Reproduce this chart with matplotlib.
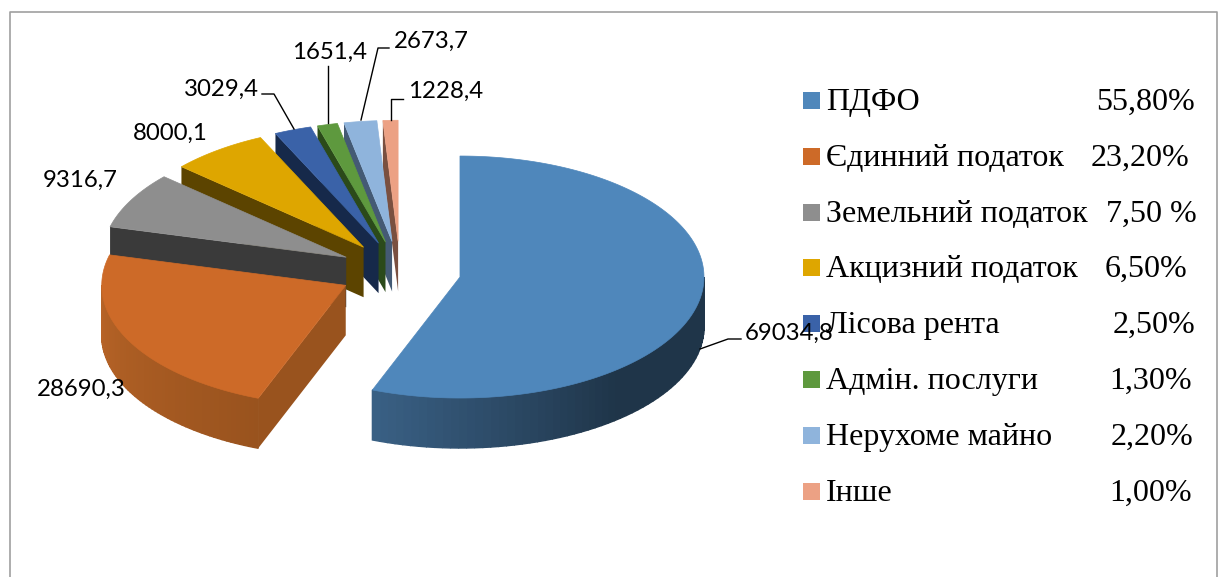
import numpy as np
import matplotlib
matplotlib.use("Agg")
import matplotlib.pyplot as plt

names = ["ПДФО", "Єдинний податок", "Земельний податок", "Акцизний податок",
         "Лісова рента", "Адмін. послуги", "Нерухоме майно", "Інше"]
values = [69034.8, 28690.3, 9316.7, 8000.1, 3029.4, 1651.4, 2673.7, 1228.4]
value_labels = ["69034,8", "28690,3", "9316,7", "8000,1", "3029,4", "1651,4", "2673,7", "1228,4"]
percents = ["55,80%", "23,20%", "7,50 %", "6,50%", "2,50%", "1,30%", "2,20%", "1,00%"]

top_colors = ["#4f87bb", "#cd6a28", "#8e8e8e", "#dea600", "#3a62a8", "#5e993e", "#8fb4dc", "#eca184"]
wall_colors = ["#3a6186", "#99531e", "#3a3a3a", "#5c4400", "#16294a", "#2b4a1a", "#445a74", "#7a5040"]
wall_far = ["#1f3549", "#b86427", "#3a3a3a", "#5c4400", "#16294a", "#2b4a1a", "#445a74", "#7a5040"]

# pie geometry in pixels
cx, cy = 400, 271.5
rx, ry = 244, 121
depth = 50
explode = 0.25

# label placement
label_xy = [(745, 333), (37, 389), (43, 180), (133, 133), (184, 89), (292, 52), (394, 41), (408, 91)]
leaders = {0: [(700, 349), (728, 339), (741, 339)],
           4: [(262, 94), (274, 94), (294, 129)],
           5: [(328, 66), (328, 123)],
           6: [(361, 120), (378, 48), (389, 48)],
           7: [(391, 120), (391, 99), (403, 99)]}
percent_right = [1195, 1189, 1197, 1187, 1195, 1192, 1193, 1192]
legend_y = [100, 156, 212, 267, 323, 379, 435, 491]


def pt(a, ax0, ay0):
    a = np.radians(a)
    return ax0 + rx * np.sin(a), ay0 - ry * np.cos(a)


fig = plt.figure(figsize=(12.19, 5.77), dpi=100)
ax = fig.add_axes([0, 0, 1, 1])
ax.set_xlim(0, 1219)
ax.set_ylim(577, 0)
ax.axis("off")

shares = np.array(values) / sum(values) * 360
starts = np.concatenate([[0], np.cumsum(shares)[:-1]])
ends = starts + shares

# small slices first, the front ones paint over them
for i in range(len(values) - 1, -1, -1):
    mid = (starts[i] + ends[i]) / 2
    x0, y0 = pt(mid, 0, 0)
    x0 = cx + explode * x0
    y0 = cy + explode * y0

    # wall along the radial edge at the start angle (blue one faces away)
    if i > 0:
        xs, ys = pt(starts[i], x0, y0)
        ax.fill([xs, x0, x0, xs], [ys, y0, y0 + depth, ys + depth], color=wall_colors[i], lw=0)

    # rim, only the part facing the viewer
    a0, a1 = max(starts[i], 90), min(ends[i], 270)
    if a1 > a0:
        grid = np.linspace(a0, a1, 60)
        c_far = np.array(matplotlib.colors.to_rgb(wall_far[i]))
        c_near = np.array(matplotlib.colors.to_rgb(wall_colors[i]))
        for j in range(len(grid) - 1):
            xa, ya = pt(grid[j], x0, y0)
            xb, yb = pt(grid[j + 1], x0, y0)
            if i == 0:
                t = np.clip((grid[j] - 140) / (ends[i] - 140), 0, 1)
                col = c_far + (c_near - c_far) * t
            else:
                t = (grid[j] - a0) / (a1 - a0)
                col = c_near + (c_far - c_near) * t
            ax.fill([xa, xb, xb, xa], [ya, yb, yb + depth, ya + depth], facecolor=col, edgecolor=col, lw=1.0)

    # top face
    grid = np.linspace(starts[i], ends[i], 200)
    xt, yt = pt(grid, x0, y0)
    ax.fill(np.r_[x0, xt], np.r_[y0, yt], color=top_colors[i], lw=0.5)

for i, path in leaders.items():
    ax.plot([p[0] for p in path], [p[1] for p in path], color="black", lw=1)

for (x, y), s in zip(label_xy, value_labels):
    ax.text(x, y, s, family="Lato", fontsize=17.3, ha="left", va="center", color="black")

# legend
for i, name in enumerate(names):
    y = legend_y[i]
    ax.fill([803, 820, 820, 803], [y - 8.5, y - 8.5, y + 8.5, y + 8.5], color=top_colors[i], lw=0)
    ax.text(826, y + 2.5, name, family="Liberation Serif", fontsize=23, ha="left", va="center", color="black")
    ax.text(percent_right[i], y + 2.5, percents[i], family="Liberation Serif", fontsize=23,
            ha="right", va="center", color="black")

# chart frame, cropped at the bottom
ax.plot([9.5, 9.5, 1217, 1217], [577, 11.5, 11.5, 577], color="#a0a0a0", lw=1.2)

fig.savefig("out.png", dpi=100)
